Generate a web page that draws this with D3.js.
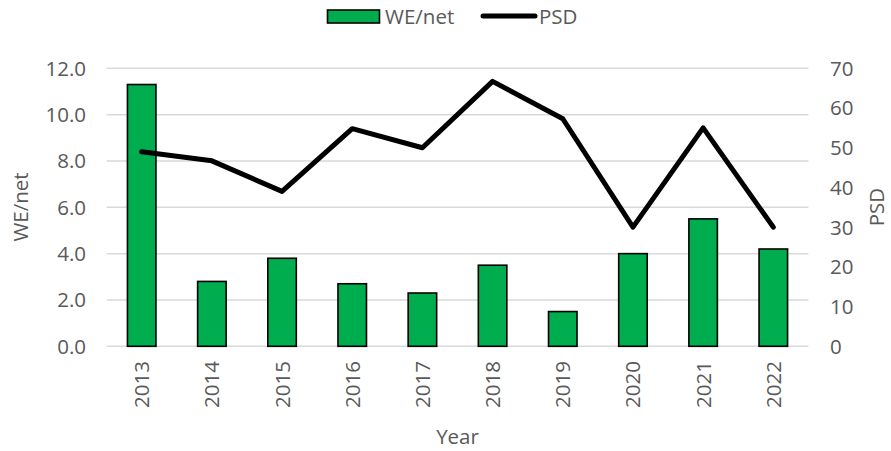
<!DOCTYPE html>
<html><head><meta charset="utf-8">
<script src="https://cdn.jsdelivr.net/npm/d3@7"></script>
<style>body{margin:0;background:#fff}svg{display:block}text{font-family:"Open Sans",sans-serif}</style>
</head><body>
<svg id="c" width="891" height="451"></svg>
<script>
const years = ["2013","2014","2015","2016","2017","2018","2019","2020","2021","2022"];
const weNet = [11.3, 2.8, 3.8, 2.7, 2.3, 3.5, 1.5, 4.0, 5.5, 4.2];
const psd = [49, 46.7, 39, 54.8, 50, 66.7, 57.3, 30, 55, 30];
const leftTicks = [0, 2, 4, 6, 8, 10, 12];
const rightTicks = [0, 10, 20, 30, 40, 50, 60, 70];

const svg = d3.select("#c");
const L = 106.6, R = 808.4, T = 68.3, B = 346.3;
const x = d3.scaleBand().domain(years).range([L, R]).paddingInner(0).paddingOuter(0);
const yL = d3.scaleLinear().domain([0, 12]).range([B, T]);
const yR = d3.scaleLinear().domain([0, 70]).range([B, T]);
const tickCol = "#595959";

// gridlines
svg.append("g").selectAll("line").data(leftTicks).join("line")
  .attr("x1", L).attr("x2", R)
  .attr("y1", d => yL(d)).attr("y2", d => yL(d))
  .attr("stroke", "#d9d9d9").attr("stroke-width", 1.5);

// left tick labels
svg.append("g").selectAll("text").data(leftTicks).join("text")
  .attr("x", 86).attr("y", d => yL(d)).attr("dy", "0.36em")
  .attr("text-anchor", "end").attr("fill", tickCol).attr("font-size", 20.5)
  .text(d => d.toFixed(1));

// right tick labels
svg.append("g").selectAll("text").data(rightTicks).join("text")
  .attr("x", 830).attr("y", d => yR(d)).attr("dy", "0.36em")
  .attr("text-anchor", "start").attr("fill", tickCol).attr("font-size", 20.5)
  .text(d => d);

// bars
const bw = 28.5;
svg.append("g").selectAll("rect").data(years).join("rect")
  .attr("x", d => x(d) + x.bandwidth()/2 - bw/2)
  .attr("width", bw)
  .attr("y", (d,i) => yL(weNet[i]))
  .attr("height", (d,i) => B - yL(weNet[i]))
  .attr("fill", "#00ad4e").attr("stroke", "#000").attr("stroke-width", 1.6);

// line
const line = d3.line().x((d,i) => x(years[i]) + x.bandwidth()/2).y(d => yR(d));
svg.append("path").datum(psd).attr("d", line)
  .attr("fill", "none").attr("stroke", "#000").attr("stroke-width", 5)
  .attr("stroke-linejoin", "round").attr("stroke-linecap", "round");

// x tick labels
svg.append("g").selectAll("text").data(years).join("text")
  .attr("transform", d => `translate(${x(d) + x.bandwidth()/2 + 7.5},361) rotate(-90)`)
  .attr("text-anchor", "end").attr("fill", tickCol).attr("font-size", 20.5)
  .text(d => d);

// axis titles
svg.append("text").attr("transform", "translate(28,207) rotate(-90)")
  .attr("text-anchor", "middle").attr("fill", tickCol).attr("font-size", 20.5).text("WE/net");
svg.append("text").attr("transform", "translate(884,207) rotate(-90)")
  .attr("text-anchor", "middle").attr("fill", tickCol).attr("font-size", 20.5).text("PSD");
svg.append("text").attr("x", 457.5).attr("y", 444)
  .attr("text-anchor", "middle").attr("fill", tickCol).attr("font-size", 20.5).text("Year");

// legend
const lg = svg.append("g");
lg.append("rect").attr("x", 327.5).attr("y", 10).attr("width", 52).attr("height", 13)
  .attr("fill", "#00ad4e").attr("stroke", "#000").attr("stroke-width", 1.6);
lg.append("text").attr("x", 385).attr("y", 16.5).attr("dy", "0.36em")
  .attr("fill", tickCol).attr("font-size", 20.5).text("WE/net");
lg.append("line").attr("x1", 483).attr("x2", 535).attr("y1", 16).attr("y2", 16)
  .attr("stroke", "#000").attr("stroke-width", 5).attr("stroke-linecap", "round");
lg.append("text").attr("x", 539).attr("y", 16.5).attr("dy", "0.36em")
  .attr("fill", tickCol).attr("font-size", 20.5).text("PSD");
</script>
</body></html>
